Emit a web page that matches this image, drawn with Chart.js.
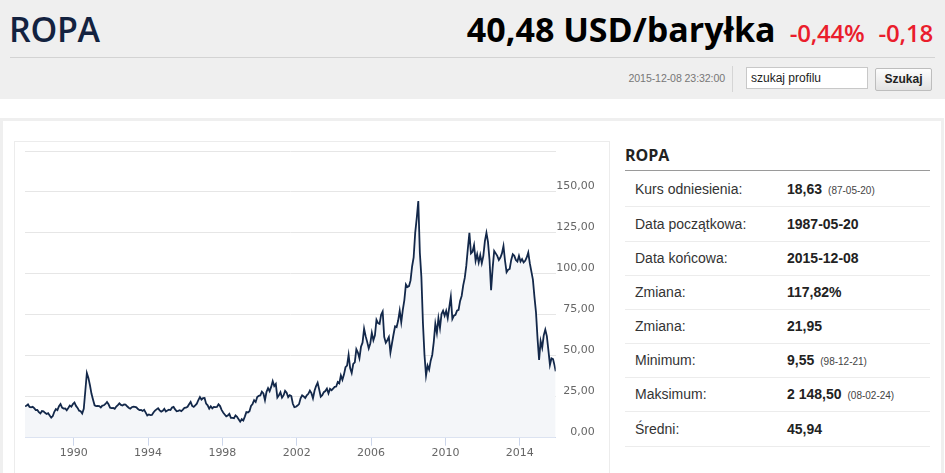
<!DOCTYPE html>
<html lang="pl">
<head>
<meta charset="utf-8">
<script src="https://cdn.jsdelivr.net/npm/chart.js@4.4.1/dist/chart.umd.min.js"></script>
<style>
  html, body { margin:0; padding:0; }
  body { width:945px; height:473px; overflow:hidden; background:#fff; position:relative; font-family:"Liberation Sans", Arial, sans-serif; }
  .abs { position:absolute; }
  #topband { left:0; top:0; width:945px; height:99px; background:#efefef; }
  #title { left:9px; top:7px; font-family:"Open Sans", sans-serif; font-size:34px; font-weight:600; color:#13223f; letter-spacing:-0.3px; line-height:44px; }
  #quote { right:12px; top:7px; line-height:44px; white-space:nowrap; font-family:"Open Sans", sans-serif; }
  #quote .price { font-size:34px; font-weight:700; color:#000; letter-spacing:0px; }
  #quote .chg { font-size:24px; font-weight:600; color:#ea1d2c; margin-left:14px; letter-spacing:-0.2px; }
  #sep1 { left:10px; top:57px; width:925px; height:1px; background:#d3d3d3; }
  #stamp { left:600px; width:125px; text-align:right; top:71px; font-size:10.6px; color:#777; line-height:14px; letter-spacing:-0.1px; }
  #vsep { left:732px; top:66px; width:1px; height:26px; background:#d5d5d5; }
  #search { left:746px; top:67px; width:122px; height:22px; box-sizing:border-box; border:1px solid #c8c8c8; background:#fff; font-size:12px; color:#222; line-height:20px; padding-left:4px; }
  #btn { left:875px; top:68px; width:57px; height:23px; box-sizing:border-box; border:1px solid #bdbdbd; border-radius:2px; background:linear-gradient(#fdfdfd,#e2e2e2); font-size:12px; font-weight:700; color:#222; text-align:center; line-height:21px; }
  #frame { left:0; top:118px; width:944px; height:360px; box-sizing:border-box; border:3px solid #efefef; border-bottom:none; }
  #card { left:14px; top:141px; width:596px; height:340px; box-sizing:border-box; border:1px solid #ececec; }
  #chartwrap { left:15px; top:142px; width:590px; height:330px; }
  #ptitle { left:625px; top:145px; font-family:"Open Sans", sans-serif; font-size:16px; font-weight:700; color:#222; line-height:20px; }
  #pline { left:625px; top:170px; width:305px; height:1px; background:#9a9a9a; }
  .row { position:absolute; left:625px; width:305px; height:34px; border-bottom:1px solid #ececec; font-size:14px; color:#333; }
  .row .lab { position:absolute; left:10px; top:0; line-height:34px; }
  .row .val { position:absolute; left:162px; top:0; line-height:34px; font-weight:700; color:#222; }
  .row .small { font-size:10px; font-weight:400; color:#444; margin-left:6px; }
</style>
</head>
<body>
<div id="topband" class="abs"></div>
<div id="title" class="abs">ROPA</div>
<div id="quote" class="abs"><span class="price">40,48 USD/baryłka</span><span class="chg">-0,44%</span><span class="chg">-0,18</span></div>
<div id="sep1" class="abs"></div>
<div id="stamp" class="abs">2015-12-08 23:32:00</div>
<div id="vsep" class="abs"></div>
<div id="search" class="abs">szukaj profilu</div>
<div id="btn" class="abs">Szukaj</div>
<div id="frame" class="abs"></div>
<div id="card" class="abs"></div>
<div id="chartwrap" class="abs"><canvas id="c"></canvas></div>
<div id="ptitle" class="abs">ROPA</div>
<div id="pline" class="abs"></div>
<div id="panel"></div>
<script>
// ---- chart data (monthly readings, Brent crude, USD/barrel) ----
const startYear = 1987;
const startMonth = 5;            // first observation: 1987-05-20
const firstObs = 1987.38;        // 1987-05-20 as decimal year
const lastObs = 2015.935;        // 2015-12-08 as decimal year
const prices = [
  // 1987 (May-Dec)
  19.2, 19.5, 20.3, 18.8, 18.5, 18.9, 18.0, 16.8,
  // 1988
  16.9, 15.6, 14.8, 16.3, 16.1, 15.2, 14.5, 15.0, 13.6, 12.3, 13.2, 15.8,
  // 1989
  17.5, 16.8, 19.2, 20.5, 18.4, 17.8, 17.9, 16.8, 18.1, 19.6, 18.9, 20.5,
  // 1990
  21.5, 19.4, 18.2, 16.5, 16.2, 14.8, 17.6, 28.5, 39.5, 36.5, 32.0, 26.8,
  // 1991
  23.2, 19.8, 19.3, 19.4, 19.3, 18.5, 19.6, 19.8, 20.6, 21.8, 20.4, 18.3,
  // 1992
  18.1, 18.2, 17.6, 19.0, 19.9, 21.0, 20.0, 19.7, 20.3, 20.2, 19.2, 18.3,
  // 1993
  17.7, 18.6, 18.9, 18.8, 18.5, 17.5, 16.8, 16.9, 16.3, 17.0, 15.3, 13.6,
  // 1994
  14.2, 13.8, 13.9, 15.4, 16.5, 17.3, 18.0, 16.7, 15.9, 16.4, 17.6, 16.0,
  // 1995
  16.6, 17.1, 16.9, 18.4, 18.8, 17.3, 16.1, 16.4, 16.8, 16.2, 17.1, 18.2,
  // 1996
  18.3, 18.9, 20.4, 21.8, 19.4, 18.8, 19.8, 20.8, 23.0, 24.8, 23.3, 24.1,
  // 1997
  24.2, 20.8, 19.8, 17.7, 19.2, 17.9, 18.8, 18.7, 18.8, 20.4, 19.3, 17.0,
  // 1998
  15.4, 14.2, 13.0, 13.6, 14.5, 12.1, 12.1, 11.9, 13.6, 12.8, 11.2, 9.8,
  // 1999
  11.3, 10.5, 12.9, 15.6, 15.4, 16.2, 19.4, 20.6, 22.9, 21.8, 24.8, 25.6,
  // 2000
  25.8, 28.1, 27.0, 22.9, 28.0, 30.3, 28.4, 31.0, 34.5, 31.5, 32.8, 24.5,
  // 2001
  25.9, 27.8, 24.4, 25.8, 28.6, 27.5, 24.8, 26.0, 25.4, 20.7, 18.6, 18.9,
  // 2002
  19.6, 20.5, 24.0, 25.9, 25.2, 24.2, 25.9, 26.8, 28.7, 27.2, 24.0, 28.6,
  // 2003
  31.5, 33.5, 29.5, 25.0, 25.9, 27.8, 28.5, 30.0, 27.0, 29.8, 29.0, 30.0,
  // 2004
  31.0, 31.2, 34.0, 33.2, 38.0, 35.3, 38.5, 43.0, 44.0, 50.5, 42.5, 39.5,
  // 2005
  45.0, 46.0, 54.0, 52.0, 48.5, 55.5, 58.0, 66.5, 62.0, 58.5, 54.5, 57.5,
  // 2006
  64.0, 59.5, 62.5, 72.0, 70.0, 69.5, 75.0, 77.0, 61.5, 58.0, 59.5, 61.5,
  // 2007
  52.0, 57.5, 63.0, 68.0, 67.5, 71.5, 77.5, 70.5, 78.0, 84.0, 93.5, 92.0,
  // 2008
  92.5, 96.0, 104.5, 110.0, 125.0, 134.0, 144.5, 113.0, 98.0, 70.0, 50.5, 38.0,
  // 2009
  44.0, 41.5, 47.0, 50.5, 58.5, 69.5, 64.0, 73.0, 67.0, 75.5, 77.5, 74.5,
  // 2010
  77.5, 73.0, 79.5, 86.0, 72.5, 74.5, 75.0, 77.5, 78.0, 83.5, 86.5, 93.0,
  // 2011
  97.5, 105.0, 115.5, 125.0, 112.5, 113.5, 117.5, 108.0, 112.0, 107.0, 111.5, 106.5,
  // 2012
  111.0, 120.0, 125.0, 119.5, 108.5, 90.0, 103.5, 114.0, 112.5, 111.0, 108.5, 110.0,
  // 2013
  112.5, 117.0, 108.0, 101.0, 102.5, 103.0, 108.5, 112.0, 111.0, 108.5, 107.5, 111.0,
  // 2014
  107.5, 109.0, 107.0, 108.0, 110.0, 113.0, 106.5, 101.5, 96.5, 86.0, 76.5, 60.5,
  // 2015
  47.5, 59.0, 55.0, 62.5, 66.0, 62.0, 53.5, 44.5, 48.5, 48.0, 44.0, 40.5
];
const xTickYears = [1990, 1994, 1998, 2002, 2006, 2010, 2014];
const yTickValues = [0, 25, 50, 75, 100, 125, 150, 175];
const yHiddenLabel = 175;

// ---- side panel data ----
const panelLabels = ['Kurs odniesienia:', 'Data początkowa:', 'Data końcowa:', 'Zmiana:', 'Zmiana:', 'Minimum:', 'Maksimum:', 'Średni:'];
const panelValues = ['18,63', '1987-05-20', '2015-12-08', '117,82%', '21,95', '9,55', '2 148,50', '45,94'];
const panelNotes  = ['(87-05-20)', '', '', '', '', '(98-12-21)', '(08-02-24)', ''];

// build panel rows
const panel = document.getElementById('panel');
const rowTops = [172, 206.5, 240.5, 274.5, 308.5, 342.5, 377, 412];
panelLabels.forEach((lab, i) => {
  const r = document.createElement('div');
  r.className = 'row';
  r.style.top = rowTops[i] + 'px';
  r.innerHTML = '<span class="lab"></span><span class="val"></span>';
  r.querySelector('.lab').textContent = lab;
  const v = r.querySelector('.val');
  v.textContent = panelValues[i];
  if (panelNotes[i]) {
    const s = document.createElement('span');
    s.className = 'small';
    s.textContent = panelNotes[i];
    v.appendChild(s);
  }
  panel.appendChild(r);
});

// ---- build points from arrays ----
const points = prices.map((p, i) => {
  const m = startMonth - 1 + i;
  let x = startYear + (m + 0.5) / 12;
  if (i === 0) x = firstObs;
  if (i === prices.length - 1) x = lastObs;
  return { x: x, y: p };
});

const fmtPL = v => v.toFixed(2).replace('.', ',');
const axisFont = { family: 'DejaVu Sans', size: 11 };

new Chart(document.getElementById('c'), {
  type: 'line',
  data: {
    datasets: [{
      data: points,
      borderColor: '#13284a',
      borderWidth: 1.8,
      backgroundColor: '#f4f6f9',
      fill: 'origin',
      pointRadius: 0,
      tension: 0
    }]
  },
  options: {
    responsive: true,
    maintainAspectRatio: false,
    animation: false,
    events: [],
    layout: { padding: { left: 10, top: 9, right: 10.3, bottom: 10.3 } },
    plugins: { legend: { display: false }, tooltip: { enabled: false } },
    scales: {
      x: {
        type: 'linear',
        min: firstObs,
        max: lastObs,
        afterBuildTicks: s => { s.ticks = xTickYears.map(v => ({ value: v })); },
        afterFit: s => { s.height = 24; },
        grid: { drawOnChartArea: false, drawTicks: true, tickLength: 8, color: '#ccd6eb', tickColor: '#ccd6eb', tickWidth: 1 },
        border: { display: true, color: '#ccd6eb', width: 1 },
        ticks: { padding: 1, color: '#666666', font: axisFont, maxRotation: 0, autoSkip: false, callback: v => String(v) }
      },
      y: {
        position: 'right',
        min: 0,
        max: 175,
        afterBuildTicks: s => { s.ticks = yTickValues.map(v => ({ value: v })); },
        afterFit: s => { s.width = 39; },
        grid: { color: c => (c.tick && c.tick.value === 0) ? 'rgba(0,0,0,0)' : '#e6e6e6', drawTicks: false, lineWidth: 1 },
        border: { display: false },
        ticks: { crossAlign: 'far', labelOffset: -6, padding: 2, color: '#666666', font: axisFont, callback: v => v === yHiddenLabel ? '' : fmtPL(v) }
      }
    }
  }
});
</script>
</body>
</html>
